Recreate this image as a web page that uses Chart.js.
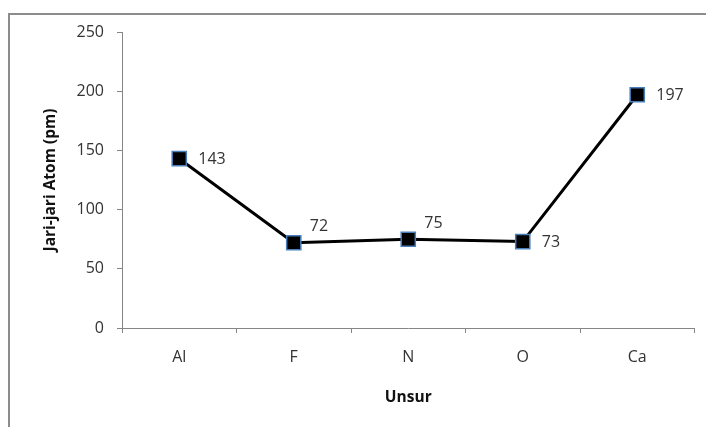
<!DOCTYPE html>
<html>
<head>
<meta charset="utf-8">
<script src="https://cdn.jsdelivr.net/npm/chart.js@4/dist/chart.umd.min.js"></script>
<style>
  html, body { margin: 0; padding: 0; background: #fff; }
  #wrap { width: 706px; height: 427px; }
</style>
</head>
<body>
<div id="wrap"><canvas id="lineChart"></canvas></div>
<script>
const elements = ['Al', 'F', 'N', 'O', 'Ca'];
const radii = [143, 72, 75, 73, 197];
const yTicks = [0, 50, 100, 150, 200, 250];

// where each value label sits relative to its marker
const labelSide = ['right', 'above', 'above', 'right', 'right'];

const fontName = '"Open Sans", Lato, sans-serif';

const frame = {
  id: 'frame',
  beforeDraw(chart) {
    const ctx = chart.ctx;
    ctx.save();
    ctx.strokeStyle = '#8c8c8c';
    ctx.lineWidth = 2;
    ctx.strokeRect(9, 14, 900, 900);
    ctx.restore();
  }
};

const valueLabels = {
  id: 'valueLabels',
  afterDatasetsDraw(chart) {
    const ctx = chart.ctx;
    const meta = chart.getDatasetMeta(0);
    ctx.save();
    ctx.font = '16px ' + fontName;
    ctx.fillStyle = '#333';
    ctx.textAlign = 'left';
    ctx.textBaseline = 'middle';
    meta.data.forEach((pt, i) => {
      const v = chart.data.datasets[0].data[i];
      if (labelSide[i] === 'above') {
        ctx.fillText(v, pt.x + 16, pt.y - 16);
      } else {
        ctx.fillText(v, pt.x + 19, pt.y + 1);
      }
    });
    ctx.restore();
  }
};

new Chart(document.getElementById('lineChart'), {
  type: 'line',
  data: {
    labels: elements,
    datasets: [{
      data: radii,
      borderColor: '#000',
      borderWidth: 3,
      pointStyle: 'rect',
      pointRadius: 10,
      pointHoverRadius: 10,
      pointBackgroundColor: '#000',
      pointBorderColor: '#4a7ebb',
      pointBorderWidth: 1.5,
      tension: 0
    }]
  },
  options: {
    responsive: true,
    maintainAspectRatio: false,
    animation: false,
    layout: { padding: { top: 32, right: 9, left: 0, bottom: 0 } },
    plugins: {
      legend: { display: false },
      tooltip: { enabled: false }
    },
    scales: {
      x: {
        offset: true,
        grid: { offset: true, drawOnChartArea: false, drawTicks: true, tickLength: 5, color: '#868686' },
        border: { color: '#868686' },
        ticks: { color: '#333', padding: 15, font: { family: fontName, size: 16 } },
        title: {
          display: true, text: 'Unsur', color: '#111',
          font: { family: fontName, size: 15.5, weight: 'bold' },
          padding: { top: 0, bottom: 20 }
        },
        afterFit(scale) { scale.height = 99; }
      },
      y: {
        min: 0,
        max: 250,
        afterBuildTicks(scale) { scale.ticks = yTicks.map(v => ({ value: v })); },
        grid: { drawOnChartArea: false, drawTicks: true, tickLength: 5, color: '#868686' },
        border: { color: '#868686' },
        ticks: { color: '#333', padding: 13, font: { family: fontName, size: 16 } },
        title: {
          display: true, text: 'Jari-jari Atom (pm)', color: '#111',
          font: { family: fontName, size: 15.5, weight: 'bold' },
          padding: { top: 41, bottom: 0 }
        },
        afterFit(scale) { scale.width = 122; }
      }
    }
  },
  plugins: [frame, valueLabels]
});
</script>
</body>
</html>
